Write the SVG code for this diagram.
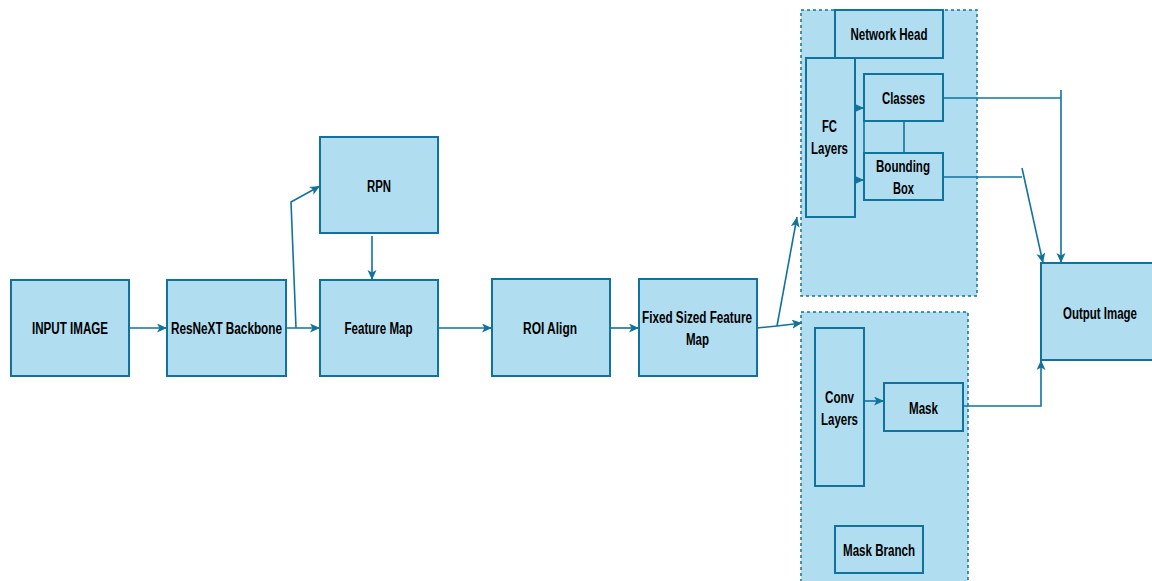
<svg xmlns="http://www.w3.org/2000/svg" width="1152" height="581" viewBox="0 0 1152 581">
<defs>
<style>
.box{fill:#b1ddf0;stroke:#10739e;stroke-width:2}
.grp{fill:#b1ddf0;stroke:#10739e;stroke-width:1.5;stroke-dasharray:3 3}
.t{font-family:"Liberation Sans",Arial,sans-serif;font-weight:bold;font-size:16px;fill:#000;text-anchor:middle}
.c{fill:none;stroke:#10739e;stroke-width:1.6}
.a{marker-end:url(#arr)}
</style>
<marker id="arr" markerUnits="userSpaceOnUse" markerWidth="12" markerHeight="10" refX="10" refY="4.5" orient="auto">
<path d="M0,0 L10,4.5 L0,9 L2.5,4.5 Z" fill="#10739e"/>
</marker>
</defs>
<rect width="1152" height="581" fill="#ffffff"/>

<g id="network-head-group"><rect class="grp" x="801" y="10" width="176" height="286"/></g>
<g id="mask-branch-group"><rect class="grp" x="801" y="312" width="167" height="280"/></g>

<g id="input-image"><rect class="box" x="11" y="280" width="118" height="96"/><text class="t" x="70" y="334" textLength="76" lengthAdjust="spacingAndGlyphs">INPUT IMAGE</text></g>
<g id="resnext"><rect class="box" x="167" y="280" width="119" height="96"/><text class="t" x="226.5" y="334" textLength="111" lengthAdjust="spacingAndGlyphs">ResNeXT Backbone</text></g>
<g id="rpn"><rect class="box" x="320" y="137" width="118" height="96"/><text class="t" x="379" y="192" textLength="24" lengthAdjust="spacingAndGlyphs">RPN</text></g>
<g id="feature-map"><rect class="box" x="320" y="280" width="118" height="96"/><text class="t" x="378.5" y="334" textLength="68" lengthAdjust="spacingAndGlyphs">Feature Map</text></g>
<g id="roi-align"><rect class="box" x="492" y="279" width="118" height="97"/><text class="t" x="550" y="334" textLength="54" lengthAdjust="spacingAndGlyphs">ROI Align</text></g>
<g id="fixed-map"><rect class="box" x="639" y="279" width="118" height="97"/><text class="t" x="697" y="323" textLength="110" lengthAdjust="spacingAndGlyphs">Fixed Sized Feature</text><text class="t" x="697.5" y="345" textLength="23" lengthAdjust="spacingAndGlyphs">Map</text></g>

<g id="network-head"><rect class="box" x="835" y="10" width="108" height="48"/><text class="t" x="889" y="40" textLength="77" lengthAdjust="spacingAndGlyphs">Network Head</text></g>
<g id="fc-layers"><rect class="box" x="806" y="58" width="49" height="159"/><text class="t" x="829.5" y="132" textLength="15" lengthAdjust="spacingAndGlyphs">FC</text><text class="t" x="829.5" y="154" textLength="37" lengthAdjust="spacingAndGlyphs">Layers</text></g>
<g id="classes"><rect class="box" x="864" y="74" width="79" height="47"/><text class="t" x="903.5" y="104" textLength="43" lengthAdjust="spacingAndGlyphs">Classes</text></g>
<g id="bounding-box"><rect class="box" x="864" y="153" width="79" height="47"/><text class="t" x="903" y="172" textLength="54" lengthAdjust="spacingAndGlyphs">Bounding</text><text class="t" x="903.5" y="194" textLength="21" lengthAdjust="spacingAndGlyphs">Box</text></g>

<g id="conv-layers"><rect class="box" x="815" y="328" width="49" height="158"/><text class="t" x="839.5" y="403" textLength="29" lengthAdjust="spacingAndGlyphs">Conv</text><text class="t" x="839.5" y="425" textLength="37" lengthAdjust="spacingAndGlyphs">Layers</text></g>
<g id="mask"><rect class="box" x="884" y="383" width="79" height="48"/><text class="t" x="923.5" y="414" textLength="29" lengthAdjust="spacingAndGlyphs">Mask</text></g>
<g id="mask-branch"><rect class="box" x="835" y="526" width="88" height="47"/><text class="t" x="879" y="556" textLength="72" lengthAdjust="spacingAndGlyphs">Mask Branch</text></g>

<g id="output-image"><rect class="box" x="1041" y="263" width="118" height="97"/><text class="t" x="1100" y="319" textLength="74" lengthAdjust="spacingAndGlyphs">Output Image</text></g>

<g id="connectors">
<path class="c a" d="M129,328 L167,328"/>
<path class="c a" d="M286,328 L320,328"/>
<path class="c a" d="M296,328 L291,202 L320,186"/>
<path class="c a" d="M372,236 L372,280"/>
<path class="c a" d="M438,328 L492,328"/>
<path class="c a" d="M610,328 L639,328"/>
<path class="c a" d="M757,328 L777,326 L802,323"/>
<path class="c a" d="M777,326 L797,217"/>
<path class="c a" d="M855,108 L864,108"/>
<path class="c a" d="M855,180 L864,180"/>
<path class="c" d="M904,121 L904,153"/>
<path class="c" d="M864,121 L864,153"/>
<path class="c" d="M943,98 L1061,98"/>
<path class="c a" d="M1061,90 L1061,263"/>
<path class="c" d="M943,177 L1022,177"/>
<path class="c a" d="M1022,168 L1043,263"/>
<path class="c a" d="M864,401 L884,401"/>
<path class="c a" d="M963,406 L1041,406 L1041,360"/>
</g>
</svg>
